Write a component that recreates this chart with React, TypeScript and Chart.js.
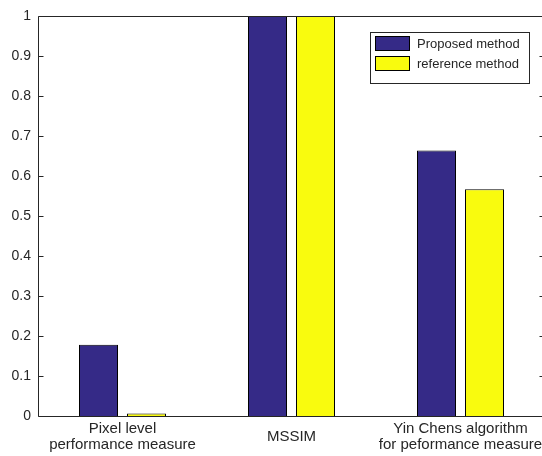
import React, { useEffect, useRef } from "react";
import { Chart, registerables } from "chart.js";

Chart.register(...registerables);

const categories: (string | string[])[] = [
  ["Pixel level", "performance measure"],
  "MSSIM",
  ["Yin Chens algorithm", "for peformance measure"],
];
const seriesNames = ["Proposed method", "reference method"];
const proposedValues = [0.178, 1.0, 0.664];
const referenceValues = [0.006, 1.0, 0.567];
const yTickLabels = ["0", "0.1", "0.2", "0.3", "0.4", "0.5", "0.6", "0.7", "0.8", "0.9", "1"];

const seriesColors = ["rgb(53,42,135)", "rgb(249,251,14)"];
const axisColor = "#262626";
const fontFamily = "'Liberation Sans', Arial, Helvetica, sans-serif";

const boxPlugin = {
  id: "matlabBox",
  afterDraw(chart: any) {
    const { ctx, chartArea: a, scales } = chart;
    const y = scales.y;
    const L = Math.round(a.left) + 0.5;
    const R = Math.round(a.right) - 0.5;
    const T = Math.round(a.top) + 0.5;
    const B = Math.round(a.bottom) + 0.5;
    ctx.save();
    ctx.strokeStyle = axisColor;
    ctx.lineWidth = 1;
    ctx.beginPath();
    ctx.moveTo(L, T);
    ctx.lineTo(R, T);
    ctx.lineTo(R, B);
    ctx.lineTo(L, B);
    ctx.closePath();
    y.ticks.forEach((t: any) => {
      const py = Math.round(y.getPixelForValue(t.value)) + 0.5;
      ctx.moveTo(L, py);
      ctx.lineTo(L + 5, py);
      ctx.moveTo(R, py);
      ctx.lineTo(R - 5, py);
    });
    ctx.stroke();

    // legend
    const lx = Math.round(a.right) - 175;
    const ly = Math.round(a.top) + 16;
    const lw = 160;
    const lh = 52;
    ctx.fillStyle = "#ffffff";
    ctx.fillRect(lx, ly, lw, lh);
    ctx.strokeStyle = "#262626";
    ctx.strokeRect(lx + 0.5, ly + 0.5, lw - 1, lh - 1);
    ctx.font = `13px ${fontFamily}`;
    ctx.textBaseline = "middle";
    ctx.textAlign = "left";
    chart.data.datasets.forEach((ds: any, i: number) => {
      const sy = ly + 4 + i * 20;
      ctx.fillStyle = ds.backgroundColor;
      ctx.fillRect(lx + 5, sy, 35, 15);
      ctx.strokeStyle = "#000000";
      ctx.strokeRect(lx + 5.5, sy + 0.5, 34, 14);
      ctx.fillStyle = axisColor;
      ctx.fillText(ds.label, lx + 47, sy + 8);
    });
    ctx.restore();
  },
};

export default function App() {
  const ref = useRef<HTMLCanvasElement | null>(null);
  useEffect(() => {
    if (!ref.current) return;
    const chart = new Chart(ref.current, {
      type: "bar",
      data: {
        labels: categories,
        datasets: [
          {
            label: seriesNames[0],
            data: proposedValues,
            backgroundColor: seriesColors[0],
            borderColor: "#000000",
            borderWidth: 1,
            categoryPercentage: 0.568,
            barPercentage: 0.8125,
          },
          {
            label: seriesNames[1],
            data: referenceValues,
            backgroundColor: seriesColors[1],
            borderColor: "#000000",
            borderWidth: 1,
            categoryPercentage: 0.568,
            barPercentage: 0.8125,
          },
        ],
      },
      options: {
        animation: false,
        responsive: false,
        devicePixelRatio: 1,
        layout: { padding: { top: 16, right: 15, left: 0, bottom: 0 } },
        plugins: { legend: { display: false }, tooltip: { enabled: false } },
        scales: {
          x: {
            grid: { display: false, drawTicks: false },
            border: { display: false },
            ticks: {
              color: axisColor,
              font: { family: fontFamily, size: 15, lineHeight: 1.05 },
              padding: 13,
              maxRotation: 0,
              autoSkip: false,
              crossAlign: "center",
            },
            afterFit: (s: any) => {
              s.height = 40;
            },
          },
          y: {
            min: 0,
            max: 1,
            grid: { display: false, drawTicks: false },
            border: { display: false },
            ticks: {
              stepSize: 0.1,
              color: axisColor,
              font: { family: fontFamily, size: 14 },
              padding: 7,
              callback: (_v: any, i: number) => yTickLabels[i],
            },
            afterFit: (s: any) => {
              s.width = 38;
            },
          },
        },
      },
      plugins: [boxPlugin],
    } as any);
    return () => chart.destroy();
  }, []);
  return (
    <div
      style={{
        position: "fixed",
        left: 0,
        top: 0,
        width: 542,
        height: 456,
        overflow: "hidden",
        background: "#ffffff",
      }}
    >
      <canvas ref={ref} width={560} height={456} style={{ display: "block" }} />
    </div>
  );
}
